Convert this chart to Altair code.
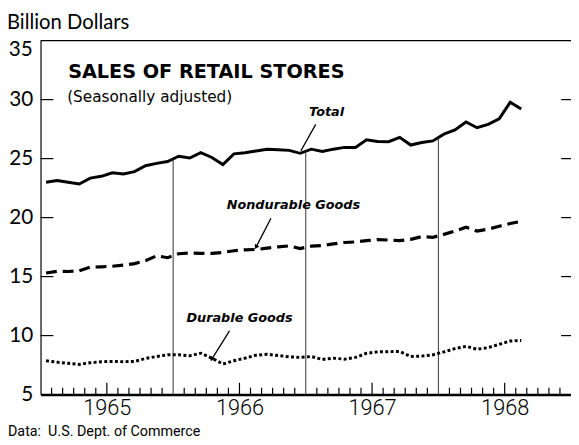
import altair as alt
import numpy as np
import pandas as pd

# Monthly values, Jan 1965 .. Aug 1968 (billion dollars, seasonally adjusted)
TOTAL = [23.0, 23.15, 23.0, 22.85, 23.35, 23.5, 23.8, 23.7, 23.9, 24.4, 24.6, 24.75,
         25.2, 25.05, 25.5, 25.1, 24.5, 25.4, 25.5, 25.65, 25.8, 25.75, 25.7, 25.45,
         25.8, 25.6, 25.8, 25.95, 25.95, 26.6, 26.45, 26.43, 26.8, 26.15, 26.37, 26.5,
         27.07, 27.43, 28.1, 27.62, 27.9, 28.37, 29.77, 29.21]
NONDURABLE = [15.3, 15.45, 15.43, 15.5, 15.8, 15.83, 15.88, 15.97, 16.1, 16.35, 16.77, 16.6,
              16.94, 17.0, 16.97, 16.97, 17.05, 17.19, 17.27, 17.3, 17.41, 17.52, 17.6, 17.38,
              17.58, 17.64, 17.77, 17.89, 17.94, 18.05, 18.14, 18.1, 18.05, 18.16, 18.39, 18.33,
              18.58, 18.86, 19.19, 18.86, 19.02, 19.27, 19.5, 19.69]
DURABLE = [7.87, 7.75, 7.65, 7.56, 7.7, 7.79, 7.81, 7.79, 7.81, 8.06, 8.23, 8.37,
           8.37, 8.29, 8.51, 8.09, 7.59, 7.87, 8.09, 8.34, 8.42, 8.31, 8.2, 8.15,
           8.23, 7.98, 8.09, 8.0, 8.15, 8.5, 8.62, 8.64, 8.65, 8.23, 8.26, 8.37,
           8.62, 8.9, 9.09, 8.84, 8.98, 9.26, 9.54, 9.59]
YEARS = ["1965", "1966", "1967", "1968"]
Y_TICKS = [5, 10, 15, 20, 25, 30]
Y_TOP = 35
INNER_TICKS = [10, 15, 20, 25, 30]

# annotation labels (month units / billion dollars)
ANN_LABELS = ["Total", "Nondurable Goods", "Durable Goods"]
ANN_M = [24.3, 16.85, 13.2]
ANN_V = [28.95, 21.1, 11.5]
LEAD_M1 = [24.9, 20.85, 17.1]
LEAD_V1 = [27.9, 19.95, 10.4]
LEAD_M2 = [23.55, 19.5, 15.5]
LEAD_V2 = [25.65, 17.5, 8.0]

W, H = 538, 359
months = np.arange(len(TOTAL)) + 0.5

xs = alt.Scale(domain=[0, 48], nice=False, zero=False)
ys = alt.Scale(domain=[5, 35], nice=False, zero=False)

x_axis = alt.Axis(values=[6, 18, 30, 42],
                  labelExpr="['1965','1966','1967','1968'][round((datum.value - 6) / 12)]",
                  tickSize=0, labelFontSize=22, labelFont="Roboto", labelFontWeight=300,
                  labelColor="black", labelPadding=3, domainWidth=2.5,
                  domainColor="black", grid=False, title=None, labelFlush=False)
y_axis = alt.Axis(values=Y_TICKS, tickSize=0, labelFontSize=21, labelFont="Lato",
                  labelColor="black", labelPadding=8, domain=True, domainColor="black",
                  domainWidth=1.2, grid=False, title=None, labelFlush=False)

def X(f):
    return alt.X(f, scale=xs, axis=x_axis)

def Y(f):
    return alt.Y(f, scale=ys, axis=y_axis)

def series(vals):
    return pd.DataFrame({"m": months, "v": vals})

total = alt.Chart(series(TOTAL)).mark_line(color="black", strokeWidth=3, strokeJoin="miter").encode(
    x=X("m:Q"), y=Y("v:Q"))
nond = alt.Chart(series(NONDURABLE)).mark_line(color="black", strokeWidth=3.2,
                                               strokeDash=[11, 6]).encode(
    x=X("m:Q"), y=Y("v:Q"))
dur = alt.Chart(series(DURABLE)).mark_line(color="black", strokeWidth=3,
                                           strokeDash=[3, 2.4]).encode(
    x=X("m:Q"), y=Y("v:Q"))

# year boundary rules up to the Total line
bounds = np.array([12, 24, 36])
bdf = pd.DataFrame({"m": bounds, "lo": 5, "hi": np.interp(bounds, months, TOTAL)})
brules = alt.Chart(bdf).mark_rule(color="#333", strokeWidth=1).encode(
    x=X("m:Q"), y=Y("lo:Q"), y2="hi:Q")

# monthly ticks along the bottom
short_m = [m for m in range(1, 48) if m % 6 != 0]
mid_m = [m for m in range(1, 48) if m % 12 == 6]
sticks = alt.Chart(pd.DataFrame({"m": short_m})).mark_rule(color="black", strokeWidth=1.2).encode(
    x=X("m:Q"), y=alt.value(H), y2=alt.value(H - 7))
mticks = alt.Chart(pd.DataFrame({"m": mid_m})).mark_rule(color="black", strokeWidth=1.2).encode(
    x=X("m:Q"), y=alt.value(H), y2=alt.value(H - 12))

# top border
top = alt.Chart(pd.DataFrame({"a": [0], "b": [48], "v": [Y_TOP]})).mark_rule(
    color="black", strokeWidth=1.2).encode(x=X("a:Q"), x2="b:Q", y=Y("v:Q"))

# "35" label sits just below the top border
top_lbl = alt.Chart(pd.DataFrame({"v": [Y_TOP], "t": [str(Y_TOP)]})).mark_text(
    align="right", baseline="top", fontSize=21, font="Lato", color="black", dy=-1).encode(
    y=Y("v:Q"), x=alt.value(-8), text="t:N")

# inward ticks on left and right
idf = pd.DataFrame({"v": INNER_TICKS})
lticks = alt.Chart(idf).mark_rule(color="black", strokeWidth=1.2).encode(
    y=Y("v:Q"), x=alt.value(0), x2=alt.value(13))
rticks = alt.Chart(idf).mark_rule(color="black", strokeWidth=1.2).encode(
    y=Y("v:Q"), x=alt.value(W - 10), x2=alt.value(W))

# annotations
adf = pd.DataFrame({"label": ANN_LABELS, "m": ANN_M, "v": ANN_V,
                    "m1": LEAD_M1, "v1": LEAD_V1, "m2": LEAD_M2, "v2": LEAD_V2})
atext = alt.Chart(adf).mark_text(align="left", baseline="middle", font="DejaVu Sans",
                                 fontWeight="bold", fontStyle="italic", fontSize=13,
                                 color="black").encode(
    x=X("m:Q"), y=Y("v:Q"), text="label:N")
alines = alt.Chart(adf).mark_rule(color="black", strokeWidth=1.3).encode(
    x=X("m1:Q"), y=Y("v1:Q"), x2="m2:Q", y2="v2:Q")
heads = alt.Chart(adf.iloc[1:]).mark_point(shape="triangle-down", filled=True, color="black",
                                           size=28, angle=29, opacity=1).encode(
    x=X("m2:Q"), y=Y("v2:Q"))

def label(txt, x, y, size, font, weight="normal", style="normal"):
    return alt.Chart(pd.DataFrame({"t": [txt]})).mark_text(
        align="left", baseline="middle", fontSize=size, font=font, fontWeight=weight,
        fontStyle=style, color="black").encode(text="t:N", x=alt.value(x), y=alt.value(y))

title = label("SALES OF RETAIL STORES", 28, 32, 19.5, "DejaVu Sans", "bold")
sub = label("(Seasonally adjusted)", 27, 57, 15.5, "DejaVu Sans")
unit = label("Billion Dollars", -34, -18, 20.5, "Lato")
src = label("Data:\u00a0\u00a0U.S. Dept. of Commerce", -33, 397, 14.5, "Roboto")

chart = alt.layer(
    total, brules, sticks, mticks, top, top_lbl, lticks, rticks, dur, nond, alines, heads,
    atext, title, sub, unit, src
).properties(
    width=W, height=H,
    autosize=alt.AutoSizeParams(type="none"),
    padding={"left": 33, "top": 30, "right": 0, "bottom": 46},
    background="white",
).configure_view(stroke=None)

chart.save("out.html", embed_options={"renderer": "svg", "actions": False})
